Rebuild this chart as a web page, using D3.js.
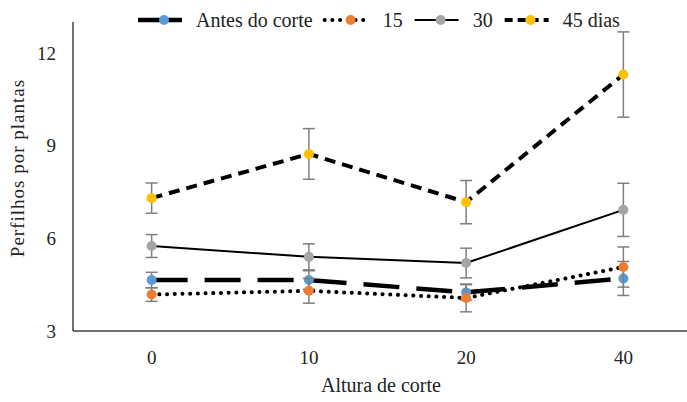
<!DOCTYPE html>
<html>
<head>
<meta charset="utf-8">
<script src="https://cdn.jsdelivr.net/npm/d3@7"></script>
<style>
  body, html { margin: 0; padding: 0; background: #fff; overflow: hidden; }
  svg text { font-family: "Liberation Serif", "Times New Roman", "DejaVu Serif", serif; }
</style>
</head>
<body>
<svg id="chart" width="687" height="402"></svg>
<script>
// data
var categories = ["0", "10", "20", "40"];
var antes = [4.65, 4.65, 4.25, 4.7];
var antesErr = [0.25, 0.3, 0.25, 0.55];
var d15 = [4.18, 4.3, 4.07, 5.07];
var d15Err = [0.22, 0.4, 0.45, 0.65];
var d30 = [5.75, 5.4, 5.2, 6.92];
var d30Err = [0.37, 0.42, 0.48, 0.86];
var d45 = [7.3, 8.73, 7.17, 11.3];
var d45Err = [0.49, 0.82, 0.7, 1.38];
var yTicks = [3, 6, 9, 12];

var series = [
  {name: "Antes do corte", values: antes, err: antesErr, color: "#5B9BD5", width: 4.5, dash: "36 17", legDash: null, cap: "butt"},
  {name: "15", values: d15, err: d15Err, color: "#ED7D31", width: 4, dash: "0.1 7.6", legDash: "0.1 7.6", cap: "round"},
  {name: "30", values: d30, err: d30Err, color: "#A5A5A5", width: 2, dash: null, legDash: null, cap: "butt"},
  {name: "45 dias", values: d45, err: d45Err, color: "#FFC000", width: 4, dash: "11 7", legDash: "8 5", cap: "butt"}
];

var svg = d3.select("#chart");
var plotLeft = 73, plotRight = 702, plotTop = 22, plotBottom = 331;

var x = d3.scalePoint().domain(categories).range([plotLeft, plotRight]).padding(0.5);
var y = d3.scaleLinear().domain([3, 13]).range([plotBottom, plotTop]);

// axis lines
svg.append("line").attr("x1", plotLeft).attr("x2", 687).attr("y1", plotBottom).attr("y2", plotBottom)
  .attr("stroke", "#404040").attr("stroke-width", 1.5);
svg.append("line").attr("x1", plotLeft).attr("x2", plotLeft).attr("y1", plotTop).attr("y2", plotBottom)
  .attr("stroke", "#404040").attr("stroke-width", 1.5);

// tick labels
svg.selectAll(".ytick").data(yTicks).enter().append("text")
  .attr("x", 56).attr("y", function(d) { return y(d); }).attr("dy", "0.35em")
  .attr("text-anchor", "end").style("font-size", "19px").attr("fill", "#222")
  .text(function(d) { return d; });

svg.selectAll(".xtick").data(categories).enter().append("text")
  .attr("x", function(d) { return x(d); }).attr("y", 364)
  .attr("text-anchor", "middle").style("font-size", "19px").attr("fill", "#222")
  .text(function(d) { return d; });

// axis titles
svg.append("text").attr("x", 381).attr("y", 392).attr("text-anchor", "middle")
  .style("font-size", "20px").attr("fill", "#222").text("Altura de corte");
svg.append("text").attr("transform", "translate(24,168) rotate(-90)").attr("text-anchor", "middle")
  .style("font-size", "19px").style("letter-spacing", "1px").attr("fill", "#222").text("Perfilhos por plantas");

var line = d3.line().x(function(d, i) { return x(categories[i]); }).y(function(d) { return y(d); });

series.forEach(function(s) {
  var g = svg.append("g");
  // error bars
  s.values.forEach(function(v, i) {
    var cx = x(categories[i]);
    var y1 = y(v + s.err[i]), y2 = y(v - s.err[i]);
    g.append("line").attr("x1", cx).attr("x2", cx).attr("y1", y1).attr("y2", y2)
      .attr("stroke", "#7F7F7F").attr("stroke-width", 1.5);
    [y1, y2].forEach(function(yy) {
      g.append("line").attr("x1", cx - 6).attr("x2", cx + 6).attr("y1", yy).attr("y2", yy)
        .attr("stroke", "#7F7F7F").attr("stroke-width", 1.5);
    });
  });
  g.append("path").datum(s.values).attr("d", line).attr("fill", "none")
    .attr("stroke", "#000").attr("stroke-width", s.width)
    .attr("stroke-dasharray", s.dash).attr("stroke-linecap", s.cap);
  g.selectAll("circle").data(s.values).enter().append("circle")
    .attr("cx", function(d, i) { return x(categories[i]); })
    .attr("cy", function(d) { return y(d); })
    .attr("r", 5).attr("fill", s.color);
});

// legend
var lx = 138, ly = 20;
series.forEach(function(s) {
  svg.append("line").attr("x1", lx).attr("x2", lx + 44).attr("y1", ly).attr("y2", ly)
    .attr("stroke", "#000").attr("stroke-width", s.width)
    .attr("stroke-dasharray", s.legDash).attr("stroke-linecap", s.cap);
  svg.append("circle").attr("cx", lx + 26).attr("cy", ly).attr("r", 5).attr("fill", s.color);
  var t = svg.append("text").attr("x", lx + 58).attr("y", ly).attr("dy", "0.35em")
    .style("font-size", "20px").attr("fill", "#222").text(s.name);
  lx += 58 + t.node().getComputedTextLength() + 12;
});
</script>
</body>
</html>
